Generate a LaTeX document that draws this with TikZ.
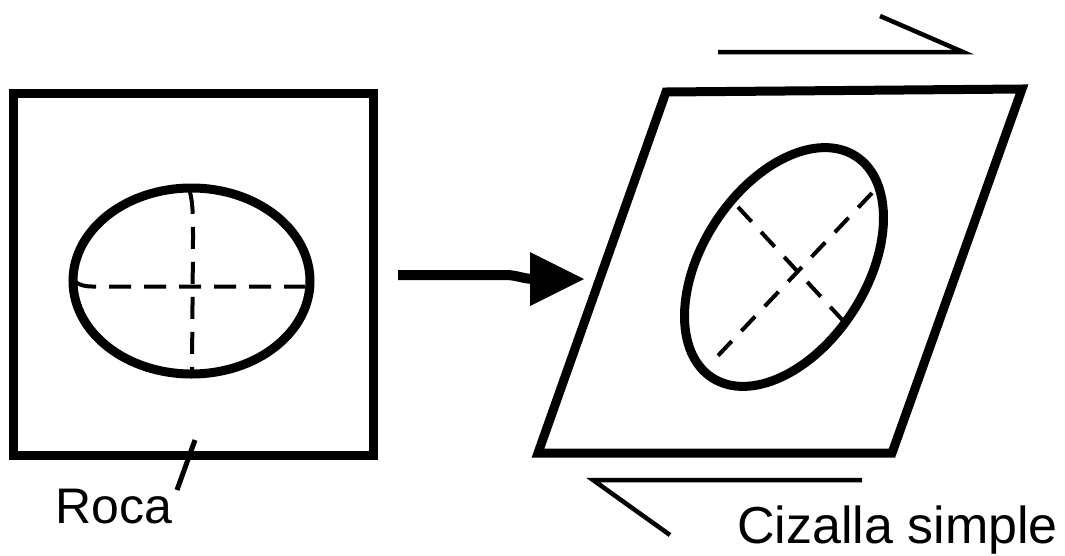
\documentclass[tikz,border=0pt]{standalone}
\usepackage{fontspec}
\setmainfont{Liberation Sans}
\begin{document}
\begin{tikzpicture}[x=1pt,y=-1pt,
  frame/.style={line width=9pt, line join=miter, draw=black},
  axisdash/.style={line width=4pt, dash pattern=on 22pt off 13pt},
  halfarrow/.style={line width=4.5pt, line join=miter},
  lbl/.style={inner sep=0pt, anchor=base west}]
\useasboundingbox (0,0) rectangle (1065,555);
\fill[white] (0,0) rectangle (1065,555);
% left block
\draw[frame] (13,93.5) rectangle (373,455);
\draw[frame] (191.5,281) ellipse [x radius=118.5, y radius=93];
\draw[axisdash] (75,282) .. controls (80,285) and (85,286.5) .. (92,286.5) -- (305,286.5);
\draw[axisdash] (190,192) .. controls (193,205) and (193,215) .. (193,240) -- (192,370);
% label Roca
\node[lbl, font=\fontsize{50}{60}\selectfont] (roca) at (55,523) {Roca};
\coordinate (rocaA) at (177,490);
\coordinate (rocaB) at (195,440);
\draw[line width=5pt] (rocaA) -- (rocaB);
% big arrow
\coordinate (ashaft) at (398,275);
\coordinate (atip) at (584,279);
\draw[line width=10pt] (ashaft) -- (505,275) .. controls (518,275) and (522,279) .. (535,279);
\fill (530,252) -- (atip) -- (530,306) -- cycle;
% sheared block
\draw[frame] (666,92) -- (1022,89) -- (892,453) -- (538,453) -- cycle;
\draw[frame, rotate around={57:(784,267)}] (784,267) ellipse [x radius=132, y radius=82];
\draw[axisdash, dash pattern=on 20pt off 14pt] (872,193) -- (712,362);
\draw[axisdash, dash pattern=on 20pt off 14pt] (738,207) -- (847,325);
% shear sense
\draw[halfarrow] (718,52) -- (963,52) -- (880,16);
\draw[halfarrow] (862,480) -- (593,480) -- (670,535);
\node[lbl, font=\fontsize{52}{60}\selectfont] (cizalla) at (737,543.5) {Cizalla simple};
\end{tikzpicture}
\end{document}
